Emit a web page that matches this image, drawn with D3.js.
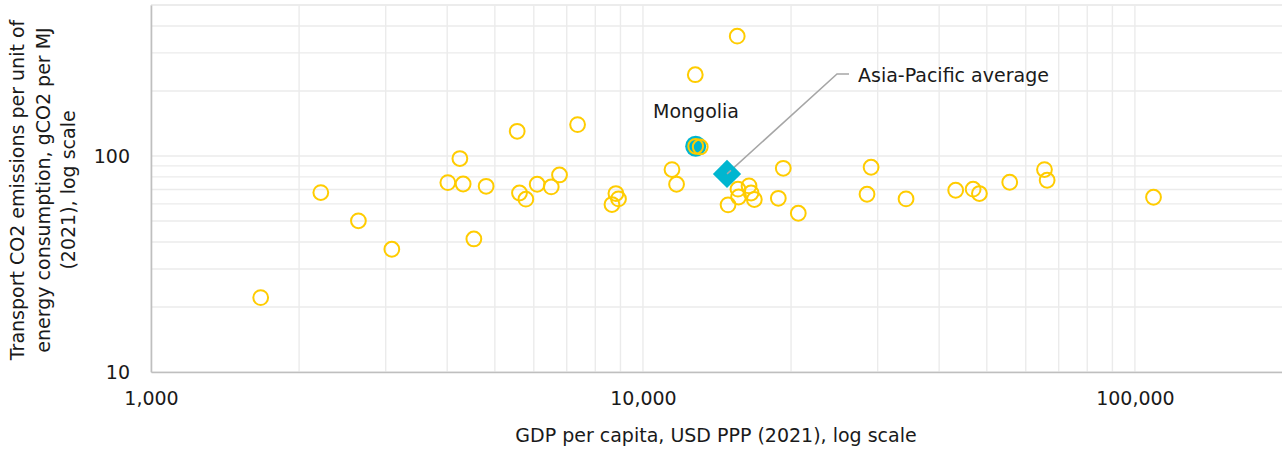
<!DOCTYPE html>
<html>
<head>
<meta charset="utf-8">
<script src="https://cdn.jsdelivr.net/npm/d3@7"></script>
<style>
  body { margin: 0; background: #fff; }
  svg text { font-family: "DejaVu Sans", "Noto Sans", sans-serif; fill: #1a1a1a; }
</style>
</head>
<body>
<script>
// GDP per capita (USD PPP 2021) and transport CO2 intensity (gCO2/MJ) for each economy
var gdp = [1671, 2214, 2640, 3087, 4532, 15546, 12775, 13075, 5551, 7364,
  4245, 4012, 4310, 4800, 5611, 5781, 6095, 6509, 6767, 8811,
  8918, 8650, 11455, 11703, 15600, 16430, 16585, 15646, 16842, 14893,
  19285, 18843, 20690, 29090, 28540, 34260, 43220, 46900, 48300, 55660,
  65490, 66310, 109100];
var co2 = [22.1, 67.7, 50.1, 37.0, 41.3, 358.7, 237.8, 110.1, 130.1, 139.7,
  97.3, 75.3, 74.2, 72.4, 67.4, 63.1, 74.0, 71.9, 81.7, 67.0,
  63.3, 59.6, 86.5, 74.0, 70.2, 72.7, 67.4, 64.6, 62.9, 59.4,
  87.7, 63.7, 54.3, 88.7, 66.5, 63.3, 69.4, 70.2, 67.0, 75.6,
  86.5, 77.2, 64.4];

var mongoliaGdp = [12800];
var mongoliaCo2 = [110.9];
var avgGdp = [14820];
var avgCo2 = [82.6];

var xTicks = [1000, 10000, 100000];
var yTicks = [10, 100];

var width = 1282;
var height = 450;
var plotLeft = 151, plotTop = 5, plotRight = 1283, plotBottom = 372;

var svg = d3.select("body").append("svg")
    .attr("width", width)
    .attr("height", height);

var x = d3.scaleLog().domain([1000, 200000]).range([plotLeft, plotRight]);
var y = d3.scaleLog().domain([10, 500]).range([plotBottom, plotTop]);

// minor grid values: 1..9 per decade
var xGrid = [];
[1000, 10000, 100000].forEach(function(d) {
  for (var i = 1; i <= 9; i++) { if (d * i <= 200000) xGrid.push(d * i); }
});
var yGrid = [];
[10, 100].forEach(function(d) {
  for (var i = 1; i <= 9; i++) { if (d * i <= 500) yGrid.push(d * i); }
});
yGrid.push(500);

svg.append("g").selectAll("line")
    .data(yGrid)
    .enter().append("line")
    .attr("x1", plotLeft).attr("x2", plotRight)
    .attr("y1", function(d) { return y(d); })
    .attr("y2", function(d) { return y(d); })
    .attr("stroke", "#ebebeb")
    .attr("stroke-width", 1.4);

svg.append("g").selectAll("line")
    .data(xGrid)
    .enter().append("line")
    .attr("x1", function(d) { return x(d); })
    .attr("x2", function(d) { return x(d); })
    .attr("y1", plotTop).attr("y2", plotBottom)
    .attr("stroke", "#ebebeb")
    .attr("stroke-width", 1.4);

// axes
var xAxis = d3.axisBottom(x).tickValues(xTicks).tickFormat(d3.format(",")).tickSize(0).tickPadding(20);
var yAxis = d3.axisLeft(y).tickValues(yTicks).tickFormat(d3.format(",")).tickSize(0).tickPadding(21);

var gx = svg.append("g").attr("transform", "translate(0," + plotBottom + ")").call(xAxis);
var gy = svg.append("g").attr("transform", "translate(" + plotLeft + ",0)").call(yAxis);
[gx, gy].forEach(function(g) {
  g.select(".domain").attr("stroke", "#bfbfbf").attr("stroke-width", 1.6);
  g.selectAll("text")
    .style("font-family", "'DejaVu Sans', sans-serif")
    .style("font-size", "19px")
    .attr("fill", "#1a1a1a");
});

// axis titles
svg.append("text")
    .attr("x", 716).attr("y", 442)
    .attr("text-anchor", "middle")
    .style("font-size", "19px")
    .text("GDP per capita, USD PPP (2021), log scale");

var yTitle = ["Transport CO2 emissions per unit of", "energy consumption, gCO2 per MJ", "(2021), log scale"];
svg.append("text")
    .attr("transform", "translate(24,190) rotate(-90)")
    .attr("text-anchor", "middle")
    .style("font-size", "19px")
    .selectAll("tspan")
    .data(yTitle)
    .enter().append("tspan")
    .attr("x", 0)
    .attr("dy", function(d, i) { return i === 0 ? 0 : 25.5; })
    .text(function(d) { return d; });

// leader line for the average
var ax = x(avgGdp[0]), ay = y(avgCo2[0]);
svg.append("path")
    .attr("d", "M" + ax + "," + ay + "L837,74L849,74")
    .attr("fill", "none")
    .attr("stroke", "#a6a6a6")
    .attr("stroke-width", 1.5);

// Mongolia highlight (behind its own ring)
svg.selectAll("circle.mongolia")
    .data(d3.zip(mongoliaGdp, mongoliaCo2))
    .enter().append("circle")
    .attr("class", "mongolia")
    .attr("cx", function(d) { return x(d[0]); })
    .attr("cy", function(d) { return y(d[1]); })
    .attr("r", 10.5)
    .attr("fill", "#00b6d0");

// all economies
svg.selectAll("circle.country")
    .data(d3.zip(gdp.concat(mongoliaGdp), co2.concat(mongoliaCo2)))
    .enter().append("circle")
    .attr("class", "country")
    .attr("cx", function(d) { return x(d[0]); })
    .attr("cy", function(d) { return y(d[1]); })
    .attr("r", 7.4)
    .attr("fill", "none")
    .attr("stroke", "#ffcc00")
    .attr("stroke-width", 2);

// Asia-Pacific average diamond
svg.selectAll("path.avg")
    .data(d3.zip(avgGdp, avgCo2))
    .enter().append("path")
    .attr("class", "avg")
    .attr("d", d3.symbol().type(d3.symbolSquare).size(400))
    .attr("transform", function(d) { return "translate(" + x(d[0]) + "," + y(d[1]) + ") rotate(45)"; })
    .attr("fill", "#00b6d0");

svg.append("path")
    .attr("d", "M" + ax + "," + ay + "L" + (ax + 4) + "," + (ay - 3.6))
    .attr("stroke", "#a6a6a6")
    .attr("stroke-width", 1.5);

// labels
svg.append("text")
    .attr("x", 696).attr("y", 118)
    .attr("text-anchor", "middle")
    .style("font-size", "19px")
    .text("Mongolia");

svg.append("text")
    .attr("x", 858).attr("y", 82)
    .style("font-size", "19px")
    .text("Asia-Pacific average");
</script>
</body>
</html>
